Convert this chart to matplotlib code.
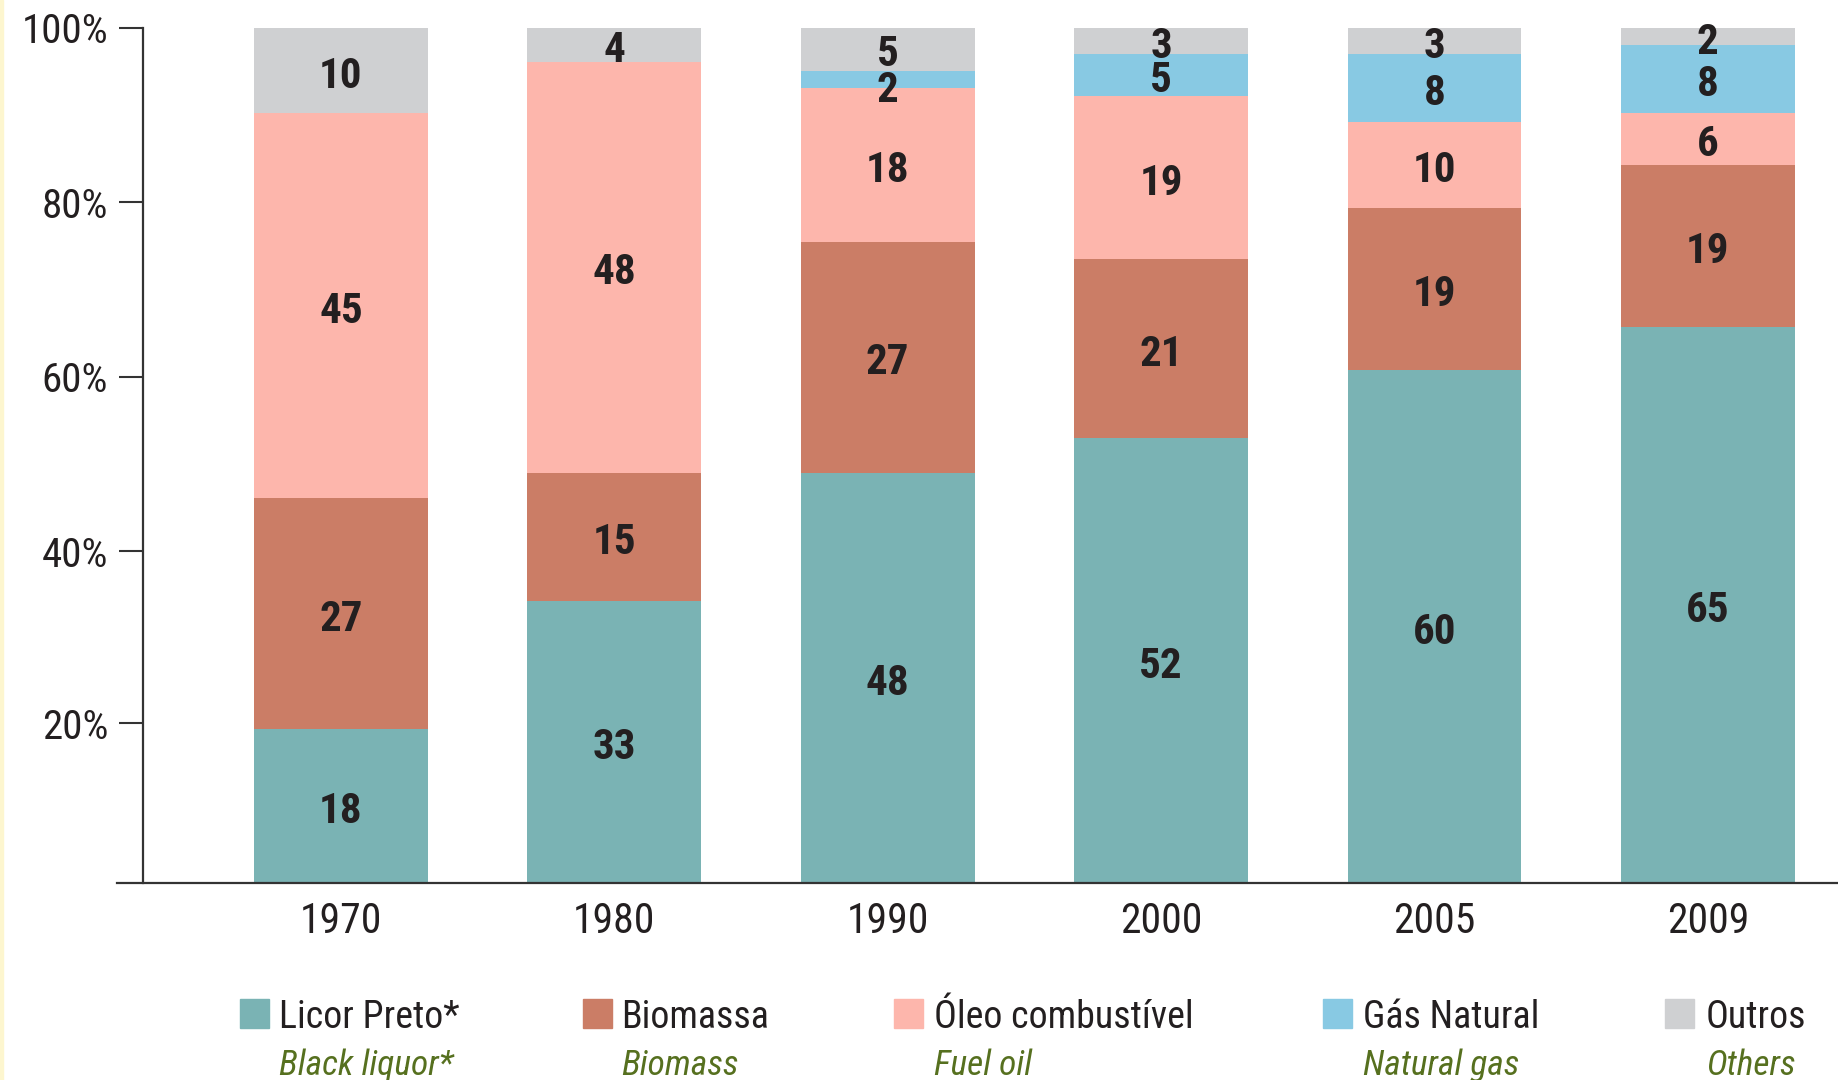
import matplotlib
matplotlib.use("Agg")
import matplotlib.pyplot as plt
import matplotlib.transforms as mtransforms
from matplotlib.patches import Rectangle
import numpy as np

years = ['1970', '1980', '1990', '2000', '2005', '2009']

licor = [18, 33, 48, 52, 60, 65]
biomassa = [27, 15, 27, 21, 19, 19]
oleo = [45, 48, 18, 19, 10, 6]
gas = [0, 0, 2, 5, 8, 8]
outros = [10, 4, 5, 3, 3, 2]

series_pt = ['Licor Preto*', 'Biomassa', 'Óleo combustível', 'Gás Natural', 'Outros']
series_en = ['Black liquor*', 'Biomass', 'Fuel oil', 'Natural gas', 'Others']
colors = ['#7ab3b4', '#cb7d66', '#fdb6ac', '#88c9e3', '#cfd0d2']

# tick positions as they sit in the original (not quite on the round values)
ytick_pos = [18.7, 38.8, 59.2, 79.6, 100]
ytick_lab = ['20%', '40%', '60%', '80%', '100%']

FONT = ['Liberation Sans Narrow', 'Roboto Condensed', 'Liberation Sans', 'DejaVu Sans']
TXT = '#231f20'
plt.rcParams['font.family'] = FONT

W, H = 1838, 1080
fig = plt.figure(figsize=(W / 100, H / 100), dpi=100)
ax = fig.add_axes([143 / W, 1 - 883 / H, 1695 / W, 855 / H])

x = np.arange(len(years))
bottom = np.zeros(len(years))
for vals, col in zip([licor, biomassa, oleo, gas, outros], colors):
    vals = np.array(vals, dtype=float)
    ax.bar(x, vals, 0.636, bottom=bottom, color=col, edgecolor='none', zorder=2)
    for xi, b, v in zip(x, bottom, vals):
        if v <= 0:
            continue
        # very thin slices get their number pushed down a little, like the original
        dy = -7 if v <= 2 and b + v < 99 else -1
        tr = mtransforms.offset_copy(ax.transData, fig=fig, x=0, y=dy, units='dots')
        ax.text(xi, b + v / 2, '%d' % v, ha='center', va='center_baseline',
                fontsize=31, fontweight='bold', color=TXT, zorder=3, transform=tr)
    bottom += vals

ax.set_xlim(-0.724, 5.476)
ax.set_ylim(0, 100)
ax.set_xticks(x)
ax.set_xticklabels(years)
ax.set_yticks(ytick_pos)
ax.set_yticklabels(ytick_lab)
ax.tick_params(axis='x', length=0, pad=13, labelsize=30, labelcolor=TXT)
ax.tick_params(axis='y', length=17, width=1.5, pad=8, labelsize=29.5,
               labelcolor=TXT, color='#333333')
for s in ['top', 'right', 'bottom']:
    ax.spines[s].set_visible(False)
ax.spines['left'].set_color('#333333')
ax.spines['left'].set_linewidth(1.6)
ax.plot([-0.0153, 1], [0, 0], transform=ax.transAxes, clip_on=False,
        color='#333333', lw=1.6, zorder=4)

# legend, drawn by hand (two lines per entry, second in italics)
sq_x = [240, 583, 894, 1323, 1665]
tx_x = [279, 621, 934, 1363, 1706]
for sx, tx, col, pt, en in zip(sq_x, tx_x, colors, series_pt, series_en):
    fig.add_artist(Rectangle((sx / W, 1 - 1028 / H), 29 / W, 29 / H,
                             transform=fig.transFigure, color=col))
    fig.text(tx / W, 1 - 1014 / H, pt, ha='left', va='center_baseline',
             fontsize=27.3, color=TXT)
    fig.text(tx / W, 1 - 1062 / H, en, ha='left', va='center_baseline',
             fontsize=25.5, style='italic', color='#56701f')

# thin yellow strip on the left edge
fig.add_artist(Rectangle((0, 0), 3 / W, 1, transform=fig.transFigure, color='#fdf6cf'))

fig.savefig('out.png', dpi=100)
